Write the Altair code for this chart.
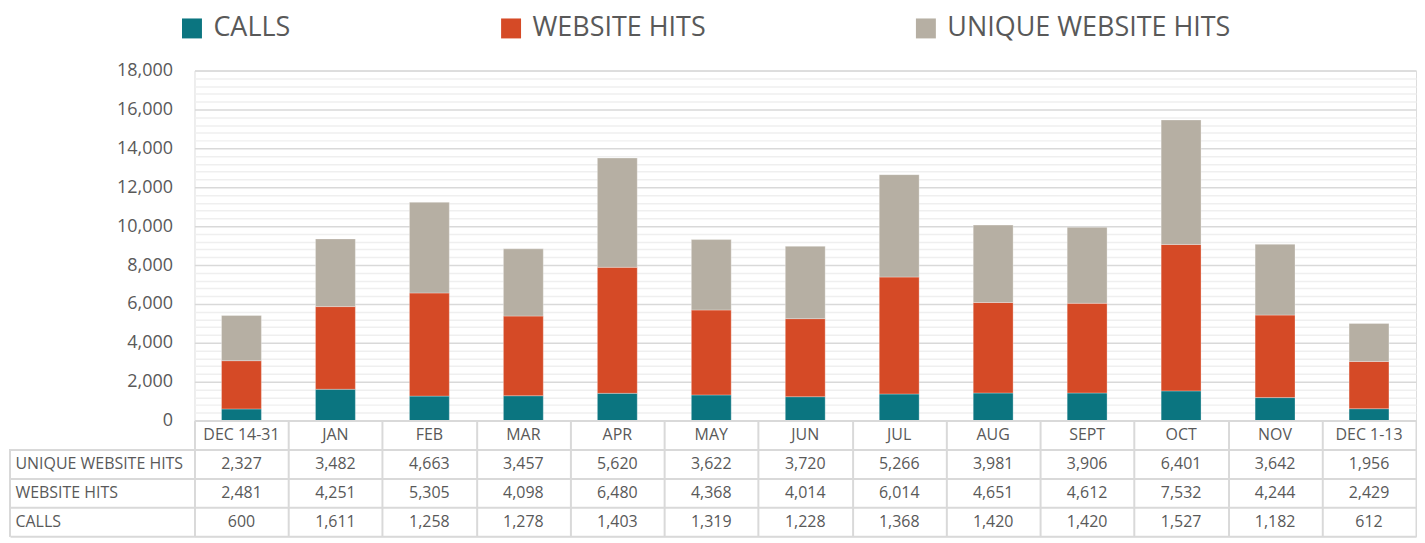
import altair as alt
import pandas as pd

months = ["DEC 14-31", "JAN", "FEB", "MAR", "APR", "MAY", "JUN", "JUL",
          "AUG", "SEPT", "OCT", "NOV", "DEC 1-13"]
series = ["CALLS", "WEBSITE HITS", "UNIQUE WEBSITE HITS"]
unique_hits = [2327, 3482, 4663, 3457, 5620, 3622, 3720, 5266, 3981, 3906, 6401, 3642, 1956]
website_hits = [2481, 4251, 5305, 4098, 6480, 4368, 4014, 6014, 4651, 4612, 7532, 4244, 2429]
calls = [600, 1611, 1258, 1278, 1403, 1319, 1228, 1368, 1420, 1420, 1527, 1182, 612]
colors = ["#0B7580", "#D54A26", "#B6AFA3"]
major_ticks = [0, 2000, 4000, 6000, 8000, 10000, 12000, 14000, 16000, 18000]
minor_ticks = [v for v in range(400, 18000, 400) if v % 2000]
table_rows = ["HDR", "UNIQUE WEBSITE HITS", "WEBSITE HITS", "CALLS"]

FONT = "Open Sans"
TXT = "#595959"
GRID = "#d9d9d9"

values = {"CALLS": calls, "WEBSITE HITS": website_hits, "UNIQUE WEBSITE HITS": unique_hits}
recs = []
for s_i, s in enumerate(series):
    for m, v in zip(months, values[s]):
        recs.append({"month": m, "series": s, "value": v, "ord": s_i})
df = pd.DataFrame(recs)

trecs = []
for m_i, m in enumerate(months):
    trecs.append({"month": m, "row": "HDR", "label": m})
    for s in ["UNIQUE WEBSITE HITS", "WEBSITE HITS", "CALLS"]:
        trecs.append({"month": m, "row": s, "label": f"{values[s][m_i]:,}"})
tdf = pd.DataFrame(trecs)

W = 1225
xscale = alt.Scale(domain=months, paddingInner=0, paddingOuter=0)
yscale = alt.Scale(domain=[0, 18000], nice=False)

minor_layer = alt.Chart(df).mark_bar(opacity=0).encode(
    x=alt.X("month:N", sort=months, scale=xscale, axis=None),
    y=alt.Y("sum(value):Q", scale=yscale,
            axis=alt.Axis(orient="right", values=minor_ticks, grid=True,
                          gridColor="#efefef", gridWidth=1.5, labels=False,
                          ticks=False, domain=False, title=None)),
)

bars = alt.Chart(df).mark_bar(size=40, stroke="#ffffff", strokeWidth=0.5, strokeOpacity=0.6).encode(
    x=alt.X("month:N", sort=months, scale=xscale, axis=None),
    y=alt.Y("value:Q", stack="zero", scale=yscale,
            axis=alt.Axis(orient="left", values=major_ticks, format=",d", grid=True,
                          gridColor=GRID, gridWidth=1.5, ticks=False, domain=False,
                          labelPadding=22, labelFontSize=18, labelColor=TXT,
                          labelFont=FONT, title=None)),
    color=alt.Color("series:N", scale=alt.Scale(domain=series, range=colors),
                    legend=alt.Legend(orient="none", legendX=-16, legendY=-56,
                                      direction="horizontal", columns=3,
                                      gridAlign="each", columnPadding=207,
                                      symbolType="square", symbolSize=400,
                                      symbolStrokeWidth=0, labelOffset=8,
                                      labelFontSize=27, labelFont=FONT,
                                      labelLimit=0,
                                      labelColor=TXT, title=None)),
    order=alt.Order("ord:Q", sort="ascending"),
)

top = alt.layer(minor_layer, bars).resolve_axis(y="independent").properties(
    width=W, height=351)

table_text = alt.Chart(tdf).mark_text(fontSize=16, font=FONT, color=TXT).encode(
    x=alt.X("month:N", sort=months, scale=xscale,
            axis=alt.Axis(orient="top", values=months, tickBand="extent", grid=True,
                          gridColor=GRID, gridWidth=2, ticks=False, labels=False,
                          domain=True, domainColor=GRID, domainWidth=2, title=None)),
    y=alt.Y("row:N", sort=table_rows,
            scale=alt.Scale(domain=table_rows, paddingInner=0, paddingOuter=0),
            axis=alt.Axis(values=table_rows[1:], tickBand="extent", tickSize=185,
                          tickColor=GRID, tickWidth=2, grid=True, gridColor=GRID,
                          gridWidth=2, domain=False, labelAlign="left",
                          labelPadding=-5, labelFontSize=16, labelFont=FONT,
                          labelColor=TXT, labelLimit=0, title=None)),
    text="label:N",
)

border = alt.Chart(tdf).mark_rule(color=GRID, strokeWidth=2).encode(
    x=alt.value(-185), y=alt.value(29), y2=alt.value(116)
)

table = alt.layer(border, table_text).properties(width=W, height=116)

chart = alt.vconcat(top, table, spacing=0, bounds="flush").properties(
    padding={"top": 6, "left": 0, "right": 0, "bottom": 0}
).configure_view(stroke=None).configure(font=FONT)

chart.save("out.html", embed_options={"renderer": "svg", "actions": False})
